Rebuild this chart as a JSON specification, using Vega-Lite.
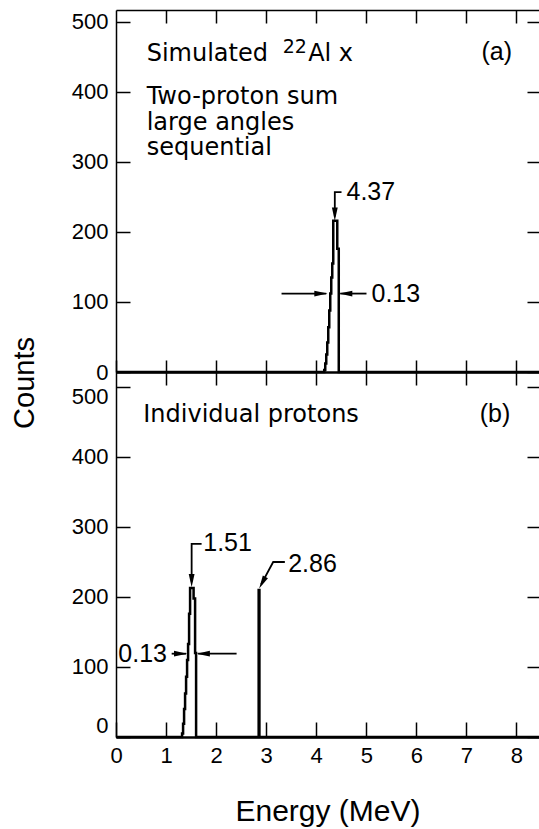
{
  "$schema": "https://vega.github.io/schema/vega-lite/v6.json",
  "padding": {"left": 10, "top": 9, "right": 0, "bottom": 5},
  "bounds": "flush",
  "spacing": 0,
  "config": {
    "view": {"stroke": null},
    "axis": {"grid": false, "domainColor": "black", "tickColor": "black", "labelColor": "black", "titleColor": "black", "labelFont": "Liberation Sans", "labelFontSize": 22}
  },
  "datasets": {
    "histA": [
      {"E": 0, "c": 0}, {"E": 4.16, "c": 3}, {"E": 4.18, "c": 12}, {"E": 4.2, "c": 25}, {"E": 4.22, "c": 42},
      {"E": 4.24, "c": 64}, {"E": 4.26, "c": 88}, {"E": 4.28, "c": 112}, {"E": 4.3, "c": 135}, {"E": 4.32, "c": 155},
      {"E": 4.34, "c": 216}, {"E": 4.42, "c": 176}, {"E": 4.45, "c": 0}, {"E": 8.45, "c": 0}
    ],
    "leadA": [
      {"id": "p", "o": 1, "E": 4.505, "c": 257}, {"id": "p", "o": 2, "E": 4.371, "c": 257}, {"id": "p", "o": 3, "E": 4.371, "c": 222},
      {"id": "l", "o": 1, "E": 3.307, "c": 112}, {"id": "l", "o": 2, "E": 4.2, "c": 112},
      {"id": "r", "o": 1, "E": 5.004, "c": 112}, {"id": "r", "o": 2, "E": 4.48, "c": 112}
    ],
    "headA": [
      {"E": 4.371, "c": 216, "ang": 180}, {"E": 4.226, "c": 112, "ang": 90}, {"E": 4.457, "c": 112, "ang": 270}
    ],
    "wordsA": [
      {"t": "Simulated", "E": 0.613, "c": 444}, {"t": "Al x", "E": 3.838, "c": 444},
      {"t": "Two-proton sum", "E": 0.613, "c": 383}, {"t": "large angles", "E": 0.613, "c": 346}, {"t": "sequential", "E": 0.613, "c": 310}
    ],
    "supA": [{"t": "22", "E": 3.33, "c": 455}],
    "numsA": [
      {"t": "(a)", "E": 7.3, "c": 446}, {"t": "4.37", "E": 4.605, "c": 245}, {"t": "0.13", "E": 5.104, "c": 100}
    ],
    "histB": [
      {"E": 0, "c": 0}, {"E": 1.32, "c": 5}, {"E": 1.34, "c": 19}, {"E": 1.36, "c": 40}, {"E": 1.38, "c": 62},
      {"E": 1.4, "c": 86}, {"E": 1.42, "c": 110}, {"E": 1.44, "c": 133}, {"E": 1.46, "c": 176}, {"E": 1.48, "c": 213},
      {"E": 1.55, "c": 198}, {"E": 1.58, "c": 120}, {"E": 1.6, "c": 0}, {"E": 2.85, "c": 210}, {"E": 2.865, "c": 0}, {"E": 8.45, "c": 0}
    ],
    "leadB": [
      {"id": "p1", "o": 1, "E": 1.71, "c": 276}, {"id": "p1", "o": 2, "E": 1.511, "c": 276}, {"id": "p1", "o": 3, "E": 1.511, "c": 222},
      {"id": "p2", "o": 1, "E": 3.373, "c": 250}, {"id": "p2", "o": 2, "E": 3.14, "c": 250}, {"id": "p2", "o": 3, "E": 2.9, "c": 218},
      {"id": "l", "o": 1, "E": 1.112, "c": 119}, {"id": "l", "o": 2, "E": 1.4, "c": 119},
      {"id": "r", "o": 1, "E": 2.409, "c": 119}, {"id": "r", "o": 2, "E": 1.64, "c": 119}
    ],
    "headB": [
      {"E": 1.511, "c": 214, "ang": 180}, {"E": 2.86, "c": 212, "ang": 208},
      {"E": 1.423, "c": 119, "ang": 90}, {"E": 1.611, "c": 119, "ang": 270}
    ],
    "wordsB": [{"t": "Individual protons", "E": 0.545, "c": 450}],
    "numsB": [
      {"t": "(b)", "E": 7.265, "c": 450}, {"t": "1.51", "E": 1.743, "c": 266}, {"t": "2.86", "E": 3.439, "c": 236}, {"t": "0.13", "E": 0.046, "c": 107}
    ]
  },
  "vconcat": [
    {
      "width": 423,
      "height": 362,
      "resolve": {"axis": {"x": "independent", "y": "independent"}},
      "layer": [
        {
          "data": {"name": "histA"},
          "mark": {"type": "line", "interpolate": "step-after", "color": "black", "strokeWidth": 2.5},
          "encoding": {
            "x": {"field": "E", "type": "quantitative", "scale": {"domain": [0, 8.45], "nice": false, "zero": false},
              "axis": {"orient": "bottom", "values": [0, 1, 2, 3, 4, 5, 6, 7, 8], "labels": false, "tickSize": -12, "tickWidth": 1.5, "domainWidth": 2.5, "title": null}},
            "y": {"field": "c", "type": "quantitative", "scale": {"domain": [0, 517], "nice": false},
              "axis": {"orient": "left", "values": [0, 100, 200, 300, 400, 500], "tickSize": -14, "tickWidth": 1.5, "domainWidth": 1.5,
                "labelPadding": 22, "labelFont": "Liberation Sans", "labelFontSize": 22, "labelFlush": false,
                "title": "Counts", "titleFont": "Liberation Sans", "titleFontSize": 29, "titleFontWeight": "normal",
                "titleAngle": 270, "titleBaseline": "alphabetic", "titleAlign": "center", "titleX": -82.5, "titleY": 372.5}}
          }
        },
        {
          "data": {"name": "leadA"},
          "mark": {"type": "line", "color": "black", "strokeWidth": 1.8},
          "encoding": {
            "x": {"field": "E", "type": "quantitative", "scale": {"domain": [0, 8.45], "nice": false, "zero": false},
              "axis": {"orient": "top", "values": [1, 2, 3, 4, 5, 6, 7, 8], "labels": false, "tickSize": -13, "tickWidth": 1.5, "domainWidth": 1.5, "title": null}},
            "y": {"field": "c", "type": "quantitative", "scale": {"domain": [0, 517], "nice": false},
              "axis": {"orient": "right", "values": [0, 100, 200, 300, 400, 500], "labels": false, "domain": false, "tickSize": -12, "tickWidth": 1.5, "title": null}},
            "detail": {"field": "id"},
            "order": {"field": "o", "type": "quantitative"}
          }
        },
        {
          "data": {"name": "headA"},
          "mark": {"type": "point", "shape": "M0,0L-0.22,1L0.22,1Z", "filled": true, "color": "black", "opacity": 1, "size": 700},
          "encoding": {
            "x": {"field": "E", "type": "quantitative", "scale": {"domain": [0, 8.45], "nice": false, "zero": false}, "axis": null},
            "y": {"field": "c", "type": "quantitative", "scale": {"domain": [0, 517], "nice": false}, "axis": null},
            "angle": {"field": "ang", "type": "quantitative", "scale": null}
          }
        },
        {
          "data": {"name": "wordsA"},
          "mark": {"type": "text", "font": "DejaVu Sans", "fontSize": 24, "align": "left", "baseline": "alphabetic", "color": "black"},
          "encoding": {
            "x": {"field": "E", "type": "quantitative", "scale": {"domain": [0, 8.45], "nice": false, "zero": false}, "axis": null},
            "y": {"field": "c", "type": "quantitative", "scale": {"domain": [0, 517], "nice": false}, "axis": null},
            "text": {"field": "t"}
          }
        },
        {
          "data": {"name": "supA"},
          "mark": {"type": "text", "font": "DejaVu Sans", "fontSize": 19, "align": "left", "baseline": "alphabetic", "color": "black"},
          "encoding": {
            "x": {"field": "E", "type": "quantitative", "scale": {"domain": [0, 8.45], "nice": false, "zero": false}, "axis": null},
            "y": {"field": "c", "type": "quantitative", "scale": {"domain": [0, 517], "nice": false}, "axis": null},
            "text": {"field": "t"}
          }
        },
        {
          "data": {"name": "numsA"},
          "mark": {"type": "text", "font": "Liberation Sans", "fontSize": 25, "align": "left", "baseline": "alphabetic", "color": "black"},
          "encoding": {
            "x": {"field": "E", "type": "quantitative", "scale": {"domain": [0, 8.45], "nice": false, "zero": false}, "axis": null},
            "y": {"field": "c", "type": "quantitative", "scale": {"domain": [0, 517], "nice": false}, "axis": null},
            "text": {"field": "t"}
          }
        }
      ]
    },
    {
      "width": 423,
      "height": 365,
      "resolve": {"axis": {"x": "independent", "y": "independent"}},
      "layer": [
        {
          "data": {"name": "histB"},
          "mark": {"type": "line", "interpolate": "step-after", "color": "black", "strokeWidth": 2.5},
          "encoding": {
            "x": {"field": "E", "type": "quantitative", "scale": {"domain": [0, 8.45], "nice": false, "zero": false},
              "axis": {"orient": "bottom", "values": [0, 1, 2, 3, 4, 5, 6, 7, 8], "tickSize": -15, "tickWidth": 1.5, "domainWidth": 2.5,
                "labelPadding": 23, "labelFont": "Liberation Sans", "labelFontSize": 22, "labelFlush": false,
                "title": "Energy (MeV)", "titleFont": "Liberation Sans", "titleFontSize": 30, "titleFontWeight": "normal",
                "titleBaseline": "alphabetic", "titleY": 83}},
            "y": {"field": "c", "type": "quantitative", "scale": {"domain": [0, 521.4], "nice": false},
              "axis": {"orient": "left", "values": [0, 100, 200, 300, 400, 500], "tickSize": -14, "tickWidth": 1.5, "domainWidth": 1.5,
                "labelPadding": 22, "labelFont": "Liberation Sans", "labelFontSize": 22, "labelFlush": 20, "title": null}}
          }
        },
        {
          "data": {"name": "leadB"},
          "mark": {"type": "line", "color": "black", "strokeWidth": 1.8},
          "encoding": {
            "x": {"field": "E", "type": "quantitative", "scale": {"domain": [0, 8.45], "nice": false, "zero": false},
              "axis": {"orient": "top", "values": [1, 2, 3, 4, 5, 6, 7, 8], "labels": false, "tickSize": -13, "tickWidth": 1.5, "domain": false, "title": null}},
            "y": {"field": "c", "type": "quantitative", "scale": {"domain": [0, 521.4], "nice": false},
              "axis": {"orient": "right", "values": [0, 100, 200, 300, 400, 500], "labels": false, "domain": false, "tickSize": -12, "tickWidth": 1.5, "title": null}},
            "detail": {"field": "id"},
            "order": {"field": "o", "type": "quantitative"}
          }
        },
        {
          "data": {"name": "headB"},
          "mark": {"type": "point", "shape": "M0,0L-0.22,1L0.22,1Z", "filled": true, "color": "black", "opacity": 1, "size": 700},
          "encoding": {
            "x": {"field": "E", "type": "quantitative", "scale": {"domain": [0, 8.45], "nice": false, "zero": false}, "axis": null},
            "y": {"field": "c", "type": "quantitative", "scale": {"domain": [0, 521.4], "nice": false}, "axis": null},
            "angle": {"field": "ang", "type": "quantitative", "scale": null}
          }
        },
        {
          "data": {"name": "wordsB"},
          "mark": {"type": "text", "font": "DejaVu Sans", "fontSize": 24, "align": "left", "baseline": "alphabetic", "color": "black"},
          "encoding": {
            "x": {"field": "E", "type": "quantitative", "scale": {"domain": [0, 8.45], "nice": false, "zero": false}, "axis": null},
            "y": {"field": "c", "type": "quantitative", "scale": {"domain": [0, 521.4], "nice": false}, "axis": null},
            "text": {"field": "t"}
          }
        },
        {
          "data": {"name": "numsB"},
          "mark": {"type": "text", "font": "Liberation Sans", "fontSize": 25, "align": "left", "baseline": "alphabetic", "color": "black"},
          "encoding": {
            "x": {"field": "E", "type": "quantitative", "scale": {"domain": [0, 8.45], "nice": false, "zero": false}, "axis": null},
            "y": {"field": "c", "type": "quantitative", "scale": {"domain": [0, 521.4], "nice": false}, "axis": null},
            "text": {"field": "t"}
          }
        }
      ]
    }
  ]
}
